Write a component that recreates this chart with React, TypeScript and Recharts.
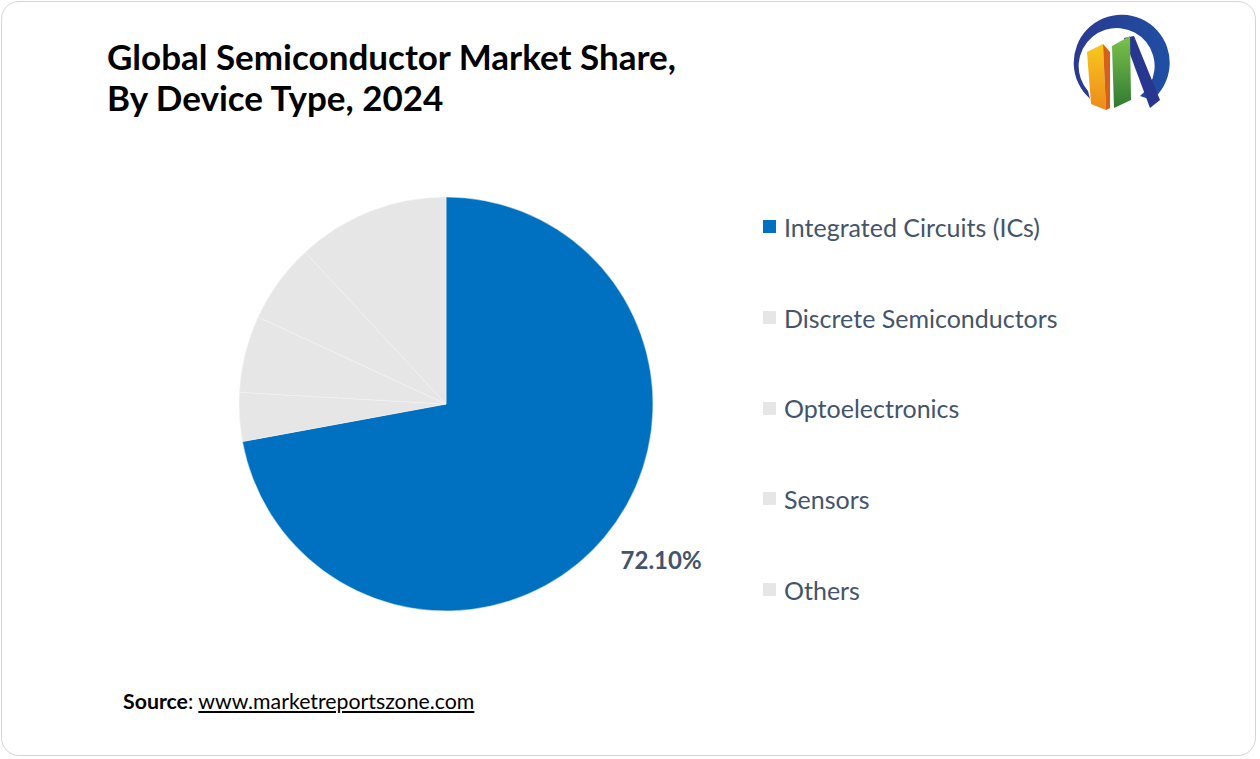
import React from 'react';
import { PieChart, Pie, Cell, Legend } from 'recharts';

// Market share by device type, 2024 (%), read clockwise from 12 o'clock
const categories = ['Integrated Circuits (ICs)', 'Discrete Semiconductors', 'Optoelectronics', 'Sensors', 'Others'];
const shares = [72.1, 3.8, 6.0, 6.2, 11.9];
const sliceColors = ['#0070C0', '#E6E6E6', '#E6E6E6', '#E6E6E6', '#E6E6E6'];
const sliceLabels = ['72.10%', '', '', '', ''];

const data = categories.map((name, i) => ({ name, value: shares[i] }));

const FONT = 'Lato, "Open Sans", sans-serif';
const TEXT = '#44546A';
const RADIAN = Math.PI / 180;

const renderLabel = (props: any) => {
  const { cx, cy, midAngle, outerRadius, index } = props;
  const txt = sliceLabels[index];
  if (!txt) return null;
  const r = outerRadius + 56;
  const x = cx + r * Math.cos(-midAngle * RADIAN) + 13;
  const y = cy + r * Math.sin(-midAngle * RADIAN) - 13;
  return (
    <text x={x} y={y} textAnchor="middle" dominantBaseline="central"
      fill={TEXT} fontFamily={FONT} fontWeight={700} fontSize={24}>
      {txt}
    </text>
  );
};

const renderLegend = () => (
  <div style={{ fontFamily: FONT }}>
    {categories.map((c, i) => (
      <div key={c} style={{ height: 90.7, display: 'flex', alignItems: 'center' }}>
        <span style={{ width: 13, height: 13, background: sliceColors[i], display: 'inline-block', marginRight: 8 }} />
        <span style={{ fontSize: 25, color: TEXT }}>{c}</span>
      </div>
    ))}
  </div>
);

const Logo = () => (
  <svg width={1260} height={130} style={{ position: 'absolute', left: 0, top: 0 }}>
    <defs>
      <linearGradient id="ring" x1="0" y1="0" x2="1" y2="0">
        <stop offset="0" stopColor="#2B3990" />
        <stop offset="1" stopColor="#1E4FA3" />
      </linearGradient>
      <linearGradient id="yel" x1="0" y1="0" x2="0" y2="1">
        <stop offset="0" stopColor="#F7C81E" />
        <stop offset="1" stopColor="#EE8A1B" />
      </linearGradient>
      <linearGradient id="grn" x1="0" y1="0" x2="0" y2="1">
        <stop offset="0" stopColor="#7CC24A" />
        <stop offset="1" stopColor="#2F7A33" />
      </linearGradient>
    </defs>
    <path d="M1090 98.8 A48 48 0 1 1 1152 100 L1140 96 A38 38 0 1 0 1088 91 Z" fill="url(#ring)" />
    <polygon points="1124,38 1134,36 1160,100 1150,108" fill="#27378F" />
    <polygon points="1087,52 1103,44 1106,110 1091,104" fill="url(#yel)" />
    <polygon points="1103,44 1110,52 1110,108 1106,110" fill="#D9601A" />
    <polygon points="1112,46 1130,36 1131,100 1114,108" fill="url(#grn)" />
  </svg>
);

export default function App() {
  return (
    <div style={{ position: 'fixed', left: 0, top: 0, width: 1260, height: 759, background: '#fff', fontFamily: FONT }}>
      <div style={{
        position: 'absolute', left: 1, top: 1, width: 1255, height: 755,
        border: '1px solid #D4D4D4', borderRadius: 18, boxSizing: 'border-box',
      }} />
      <div style={{
        position: 'absolute', left: 107, top: 36, fontSize: 35, fontWeight: 700,
        color: '#000', lineHeight: '41px',
      }}>
        Global Semiconductor Market Share,<br />By Device Type, 2024
      </div>
      <Logo />
      <div style={{ position: 'absolute', left: 0, top: 0 }}>
        <PieChart width={1260} height={759}>
          <Pie
            data={data}
            dataKey="value"
            nameKey="name"
            cx={441}
            cy={399}
            outerRadius={207}
            startAngle={90}
            endAngle={-270}
            stroke="#F4F4F4"
            strokeWidth={0.5}
            label={renderLabel}
            labelLine={false}
            isAnimationActive={false}
          >
            {data.map((d, i) => <Cell key={d.name} fill={sliceColors[i]} />)}
          </Pie>
          <Legend content={renderLegend} wrapperStyle={{ left: 763, top: 181.5, width: 460 }} />
        </PieChart>
      </div>
      <div style={{ position: 'absolute', left: 123, top: 688, fontSize: 21.3, color: '#000' }}>
        <span style={{ fontWeight: 700 }}>Source</span>: <span style={{ textDecoration: 'underline' }}>www.marketreportszone.com</span>
      </div>
    </div>
  );
}
